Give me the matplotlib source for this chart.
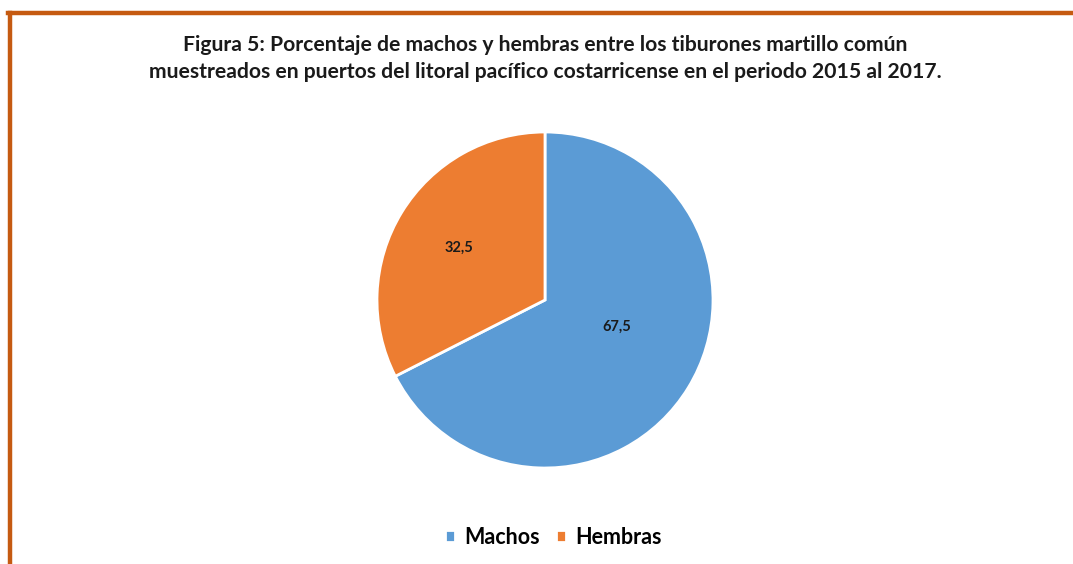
import matplotlib
matplotlib.use('Agg')
import matplotlib.pyplot as plt
from matplotlib.lines import Line2D

sexo = ['Machos', 'Hembras']
porcentaje = [67.5, 32.5]
colores = ['#5B9BD5', '#ED7D31']
titulo = ('Figura 5: Porcentaje de machos y hembras entre los tiburones martillo común\n'
          'muestreados en puertos del litoral pacífico costarricense en el periodo 2015 al 2017.')

plt.rcParams['font.family'] = ['Lato', 'DejaVu Sans']

fig = plt.figure(figsize=(10.73, 5.64), dpi=100)
fig.patch.set_facecolor('white')

# marco naranja (solo arriba e izquierda visibles)
borde = '#C55A11'
fig.add_artist(Line2D([8/1073, 1], [1-12.5/564, 1-12.5/564], color=borde, lw=3.2, transform=fig.transFigure))
fig.add_artist(Line2D([9.5/1073, 9.5/1073], [0, 1-12.5/564], color=borde, lw=3.2, transform=fig.transFigure))

fig.text(0.508, 1-58.5/564, titulo, ha='center', va='center', fontsize=15.2,
         fontweight='bold', color='#1a1a1a', linespacing=1.38)

ax = fig.add_axes([(545-168)/1073, (564-468)/564, 336/1073, 336/564])
wedges, _, autotexts = ax.pie(porcentaje, colors=colores, startangle=90, counterclock=False,
                              autopct=lambda p: f'{p:.1f}'.replace('.', ','), pctdistance=0.6,
                              wedgeprops=dict(edgecolor='white', linewidth=2))
for t in autotexts:
    t.set_fontsize(10.5)
    t.set_fontweight('bold')
    t.set_color('#1a1a1a')
# Excel coloca la etiqueta grande más cerca del centro
autotexts[0].set_position((0.43, -0.16))
ax.set_xlim(-1, 1)
ax.set_ylim(-1, 1)
ax.set_aspect('equal')

fig.legend(wedges, sexo, loc='center', bbox_to_anchor=(0.516, 1-537/564), ncol=2,
           frameon=False, prop=dict(size=15.5, weight='bold'), handlelength=0.45, handleheight=0.45,
           handletextpad=0.45, columnspacing=0.75)

fig.savefig('out.png', dpi=100)
